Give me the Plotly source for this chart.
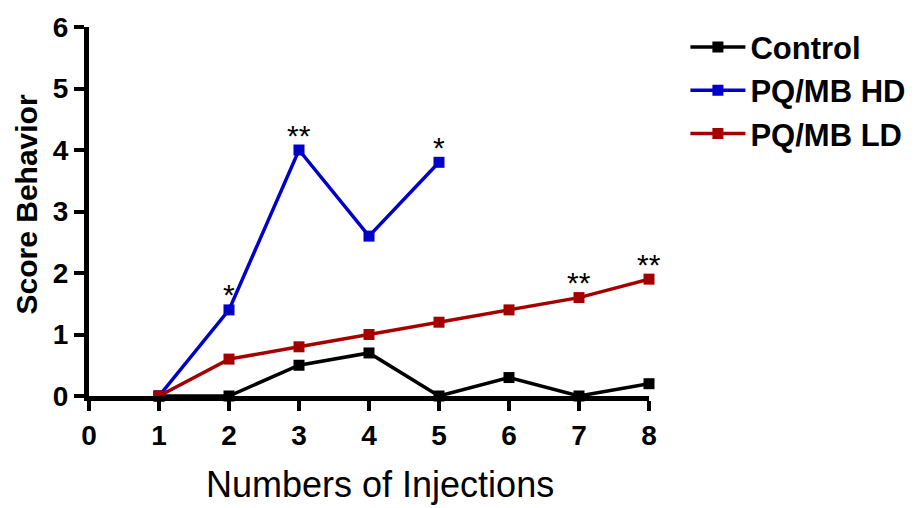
import plotly.graph_objects as go

injections = [1, 2, 3, 4, 5, 6, 7, 8]
control = [0, 0, 0.5, 0.7, 0, 0.3, 0, 0.2]
hd_x = [1, 2, 3, 4, 5]
hd = [0, 1.4, 4.0, 2.6, 3.8]
ld = [0, 0.6, 0.8, 1.0, 1.2, 1.4, 1.6, 1.9]

# significance marks: (x, y, text)
sig_hd = [(2, 1.4, "*"), (3, 4.0, "**"), (5, 3.8, "*")]
sig_ld = [(7, 1.6, "**"), (8, 1.9, "**")]

FONT = "Liberation Sans, Arial"

fig = go.Figure()
fig.add_trace(go.Scatter(x=injections, y=control, name="Control", mode="lines+markers",
                         line=dict(color="black", width=3.5),
                         marker=dict(symbol="square", size=11, color="black"),
                         cliponaxis=False))
fig.add_trace(go.Scatter(x=hd_x, y=hd, name="PQ/MB HD", mode="lines+markers",
                         line=dict(color="#0000C8", width=3.5),
                         marker=dict(symbol="square", size=11, color="#0000C8"),
                         cliponaxis=False))
fig.add_trace(go.Scatter(x=injections, y=ld, name="PQ/MB LD", mode="lines+markers",
                         line=dict(color="#A50000", width=3.5),
                         marker=dict(symbol="square", size=11, color="#A50000"),
                         cliponaxis=False))

for x, y, t in sig_hd + sig_ld:
    fig.add_annotation(x=x, y=y, text=t, showarrow=False, yshift=15,
                       font=dict(family=FONT, size=30, color="black"))

# axis titles as paper annotations (placed as in the original)
fig.add_annotation(xref="paper", yref="paper", x=0.5195, y=0, yanchor="middle", yshift=-88,
                   text="Numbers of Injections", showarrow=False,
                   font=dict(family=FONT, size=36, color="black"))
fig.add_annotation(xref="paper", yref="paper", x=0, y=0.5, xanchor="center", yanchor="middle",
                   xshift=-63, yshift=7, textangle=-90, borderpad=0,
                   text="<b>Score Behavior</b>", showarrow=False,
                   font=dict(family=FONT, size=30, color="black"))

fig.update_layout(
    width=914, height=508,
    margin=dict(l=81, r=271, t=12, b=120),
    paper_bgcolor="white", plot_bgcolor="white",
    font=dict(family=FONT, color="black"),
    legend=dict(x=1.065, y=1.018, xanchor="left", yanchor="top",
                font=dict(size=31, family=FONT, weight="bold"),
                itemwidth=55),
    xaxis=dict(range=[0, 8], tickvals=[0, 1, 2, 3, 4, 5, 6, 7, 8], automargin=False,
               showgrid=False, zeroline=False, showline=True, linecolor="black", linewidth=5,
               ticks="outside", ticklen=10, tickwidth=4, tickcolor="black",
               ticklabeloverflow="allow",
               tickfont=dict(size=28, weight="bold")),
    yaxis=dict(range=[0, 6], tickvals=[0, 1, 2, 3, 4, 5, 6], automargin=False,
               showgrid=False, zeroline=False, showline=True, linecolor="black", linewidth=5,
               ticks="outside", ticklen=10, tickwidth=4, tickcolor="black",
               ticklabeloverflow="allow",
               tickfont=dict(size=28, weight="bold")),
)

fig.write_html("out.html")
